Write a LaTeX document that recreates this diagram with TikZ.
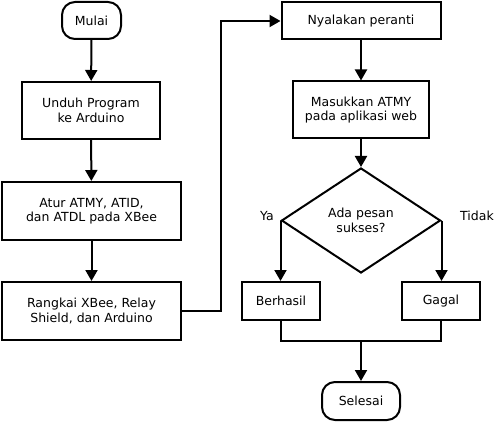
\documentclass[tikz,border=0pt]{standalone}
\usepackage{fontspec}
\setmainfont{DejaVu Sans}
\usetikzlibrary{shapes.geometric,arrows.meta}

\begin{document}
\begin{tikzpicture}[x=1pt, y=-1pt, line width=2pt,
  every node/.style = {align=center, font=\fontsize{12.5}{14.5}\selectfont},
  box/.style = {shape=rectangle, draw, inner sep=0pt},
  term/.style = {box, rounded corners=13pt, minimum width=59pt, minimum height=37pt},
  cond/.style = {shape=diamond, draw, inner sep=0pt,
    minimum width=159pt, minimum height=105pt},
  arr/.style = {-{Triangle[length=11pt,width=12pt]}}]
  \useasboundingbox (0,0) rectangle (495,422);

  % kolom kiri
  \node[term] (mulai) at (91.5,20.5) {Mulai};
  \node[box, minimum width=138pt, minimum height=57pt] (unduh) at (91,110.5)
    {Unduh Program\\ke Arduino};
  \node[box, minimum width=179pt, minimum height=58pt] (atur) at (91.5,211)
    {Atur ATMY, ATID,\\dan ATDL pada XBee};
  \node[box, minimum width=179pt, minimum height=58pt] (rangkai) at (91.5,311)
    {Rangkai XBee, Relay\\Shield, dan Arduino};

  % kolom kanan
  \node[box, minimum width=159pt, minimum height=37pt] (nyalakan) at (361,21)
    {Nyalakan peranti};
  \node[box, minimum width=136pt, minimum height=57pt] (masukkan) at (361,110)
    {Masukkan ATMY\\pada aplikasi web};
  \node[cond] (sukses) at (361,220.5) {Ada pesan\\sukses?};
  \node (ya) at (267,216) {Ya};
  \node (tidak) at (477,216) {Tidak};
  \node[box, minimum width=78pt, minimum height=38pt] (berhasil) at (281,301) {Berhasil};
  \node[box, minimum width=78pt, minimum height=38pt] (gagal) at (441,301) {Gagal};
  \node[term, minimum width=78pt, minimum height=38pt] (selesai) at (361,401) {Selesai};
  \coordinate (gabung) at (361,341);

  \draw[arr] (mulai) -- (unduh);
  \draw[arr] (unduh) -- (atur);
  \draw[arr] (atur) -- (rangkai);
  \draw[arr] (rangkai.east) -- ++(39,0) |- (nyalakan.west);
  \draw[arr] (nyalakan) -- (masukkan);
  \draw[arr] (masukkan) -- (sukses);
  \draw[arr] (sukses.west) -- (sukses.west |- berhasil.north);
  \draw[arr] (sukses.east) -- (sukses.east |- gagal.north);
  \draw (berhasil.south) |- (gabung) -| (gagal.south);
  \draw[arr] (gabung) -- (selesai);
\end{tikzpicture}
\end{document}
